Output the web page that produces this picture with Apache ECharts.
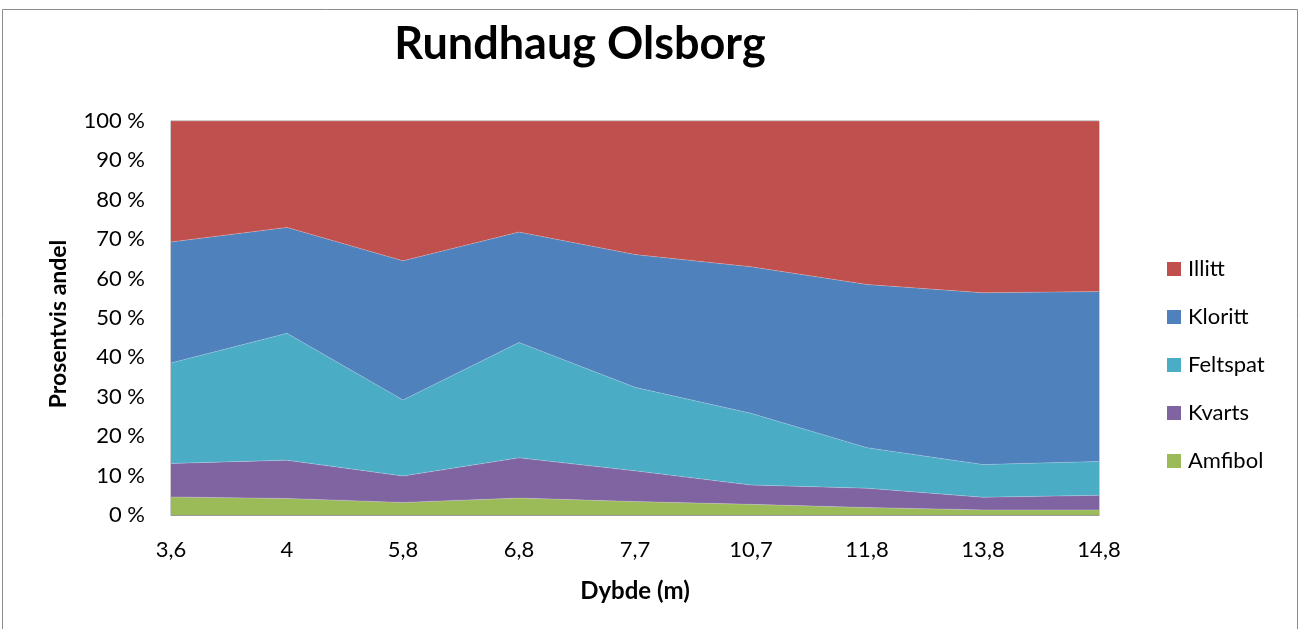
<!DOCTYPE html>
<html>
<head>
<meta charset="utf-8">
<script src="https://cdn.jsdelivr.net/npm/echarts@6/dist/echarts.min.js"></script>
<style>
  html, body { margin: 0; padding: 0; background: #fff; }
  #chart { width: 1301px; height: 629px; }
</style>
</head>
<body>
<div id="chart"></div>
<script>
// Depth samples (m) and mineral shares (%) per sample
const depths = ['3,6', '4', '5,8', '6,8', '7,7', '10,7', '11,8', '13,8', '14,8'];
const amfibol  = [4.6, 4.2, 3.2, 4.3, 3.4, 2.7, 1.9, 1.3, 1.3];
const kvarts   = [8.5, 9.7, 6.7, 10.2, 7.8, 4.9, 4.9, 3.2, 3.7];
const feltspat = [25.5, 32.2, 19.3, 29.3, 21.2, 18.2, 10.3, 8.3, 8.6];
const kloritt  = [30.7, 26.9, 35.3, 28.0, 33.7, 37.2, 41.4, 43.6, 43.1];
const illitt   = [30.7, 27.0, 35.5, 28.2, 33.9, 37.0, 41.5, 43.6, 43.3];

const font = 'Lato, "Open Sans", sans-serif';

const layers = [
  { name: 'Amfibol',  data: amfibol,  color: '#9BBB59' },
  { name: 'Kvarts',   data: kvarts,   color: '#8064A2' },
  { name: 'Feltspat', data: feltspat, color: '#4BACC6' },
  { name: 'Kloritt',  data: kloritt,  color: '#4F81BD' },
  { name: 'Illitt',   data: illitt,   color: '#C0504D' }
];

const chart = echarts.init(document.getElementById('chart'), null, { renderer: 'canvas' });

chart.setOption({
  animation: false,
  backgroundColor: '#fff',
  title: {
    text: 'Rundhaug Olsborg',
    left: 575, top: 17, textAlign: 'center',
    textStyle: { fontFamily: font, fontSize: 45, fontWeight: 'bold', color: '#000' }
  },
  graphic: [{
    type: 'rect',
    shape: { x: 2.5, y: 9.5, width: 1295, height: 640 },
    style: { fill: 'none', stroke: '#8c8c8c', lineWidth: 1 },
    silent: true
  }],
  legend: {
    orient: 'vertical',
    left: 1162, top: 253,
    itemWidth: 14, itemHeight: 14, itemGap: 26,
    icon: 'rect',
    data: ['Illitt', 'Kloritt', 'Feltspat', 'Kvarts', 'Amfibol'],
    textStyle: { fontFamily: font, fontSize: 22, color: '#000', padding: [0, 0, 0, 2], lineHeight: 22 }
  },
  grid: {
    left: 171, right: 202, top: 121, bottom: 114,
    show: true, borderColor: '#9a9a9a', borderWidth: 1, backgroundColor: 'transparent'
  },
  xAxis: {
    type: 'category',
    data: depths,
    boundaryGap: false,
    name: 'Dybde (m)',
    nameLocation: 'middle',
    nameGap: 64,
    nameTextStyle: { fontFamily: font, fontSize: 24, fontWeight: 'bold', color: '#000' },
    axisLine: { show: true, lineStyle: { color: '#9a9a9a' } },
    axisTick: { show: false },
    axisLabel: { fontFamily: font, fontSize: 22, color: '#000', margin: 24 },
    splitLine: { show: false }
  },
  yAxis: {
    type: 'value',
    min: 0, max: 100, interval: 10,
    name: 'Prosentvis andel',
    nameLocation: 'middle',
    nameGap: 101,
    nameTextStyle: { fontFamily: font, fontSize: 23, fontWeight: 'bold', color: '#000', padding: [0, 12, 0, 0] },
    axisLine: { show: true, lineStyle: { color: '#9a9a9a' } },
    axisTick: { show: false },
    axisLabel: { fontFamily: font, fontSize: 22, color: '#000', margin: 26, formatter: '{value} %' },
    splitLine: { show: false }
  },
  series: layers.map(l => ({
    name: l.name,
    type: 'line',
    stack: 'total',
    data: l.data,
    symbol: 'none',
    lineStyle: { width: 0.6, color: 'rgba(255,255,255,0.35)' },
    areaStyle: { color: l.color, opacity: 1 },
    itemStyle: { color: l.color },
    emphasis: { disabled: true }
  }))
});
</script>
</body>
</html>
